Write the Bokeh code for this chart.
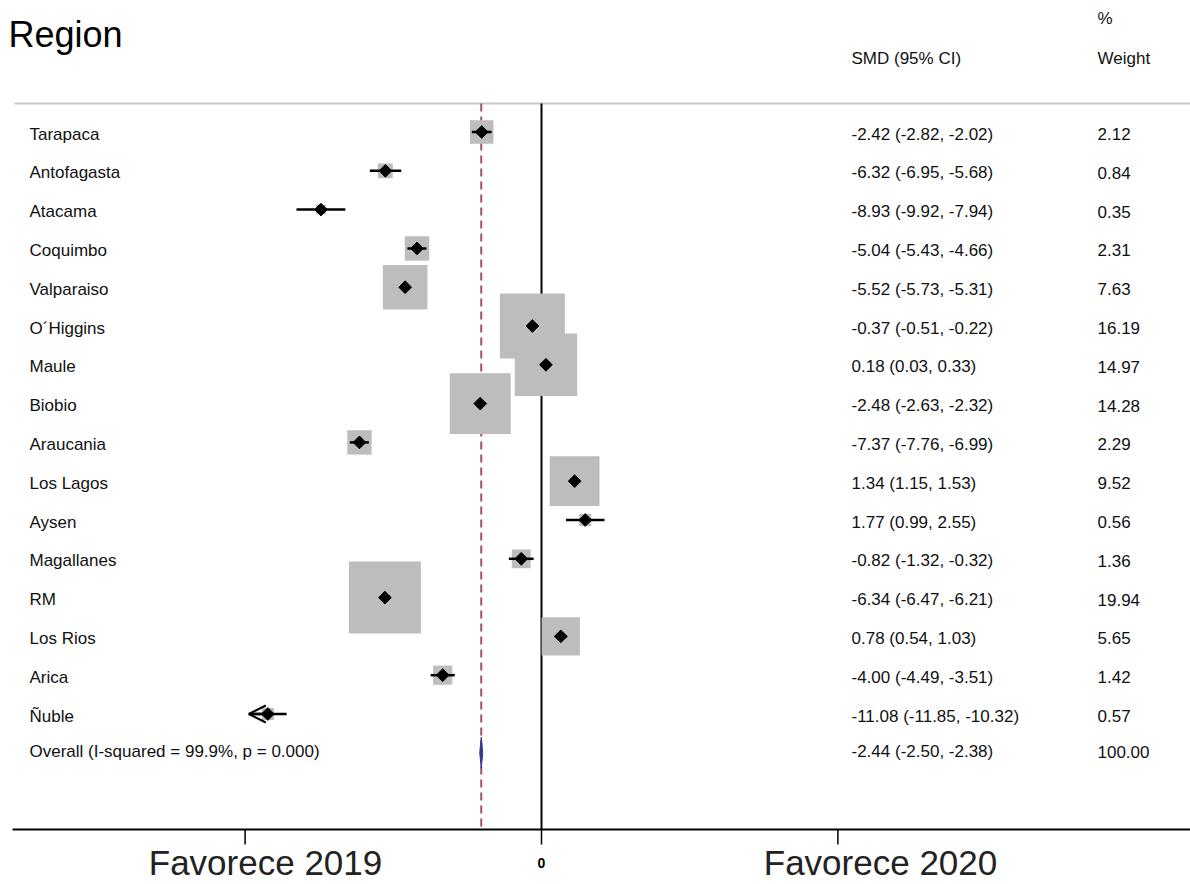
from bokeh.plotting import figure
from bokeh.models import Range1d, Arrow, OpenHead, ColumnDataSource
from bokeh.core.properties import value
from bokeh.embed import file_html
from bokeh.resources import INLINE
import math

# ---------------- data ----------------
regions = ["Tarapaca", "Antofagasta", "Atacama", "Coquimbo", "Valparaiso", "O´Higgins",
           "Maule", "Biobio", "Araucania", "Los Lagos", "Aysen", "Magallanes", "RM",
           "Los Rios", "Arica", "Ñuble"]
smd = [-2.42, -6.32, -8.93, -5.04, -5.52, -0.37, 0.18, -2.48, -7.37, 1.34, 1.77, -0.82,
       -6.34, 0.78, -4.00, -11.08]
ci_low = [-2.82, -6.95, -9.92, -5.43, -5.73, -0.51, 0.03, -2.63, -7.76, 1.15, 0.99, -1.32,
          -6.47, 0.54, -4.49, -11.85]
ci_high = [-2.02, -5.68, -7.94, -4.66, -5.31, -0.22, 0.33, -2.32, -6.99, 1.53, 2.55, -0.32,
           -6.21, 1.03, -3.51, -10.32]
weights = [2.12, 0.84, 0.35, 2.31, 7.63, 16.19, 14.97, 14.28, 2.29, 9.52, 0.56, 1.36,
           19.94, 5.65, 1.42, 0.57]
overall_label = "Overall  (I-squared = 99.9%, p = 0.000)"
overall_smd = -2.44
overall_low = -2.50
overall_high = -2.38
overall_weight = 100.00
x_ticks = [-12, 0, 12]
x_tick_labels = ["", "0", ""]
side_labels = ["Favorece 2019", "Favorece 2020"]

# ---------------- layout helpers (reference pixels -> data) ----------------
W, H = 1190, 884
PX_PER_UNIT = 24.7
ZERO_PX = 541.0          # x pixel of SMD = 0
ROW0_PX = 131.5          # y pixel of first row
ROW_H = 38.8
AXIS_PX = 829            # y pixel of the x axis line
TOP_PX = 103             # y pixel of header rule


def xd(px):
    return (px - ZERO_PX) / PX_PER_UNIT


def yd(py):
    return (py - ROW0_PX) / ROW_H


FONT = "Liberation Sans"
TXT = "#111111"
n = len(regions)
rows = list(range(n))
overall_row = n

p = figure(width=W, height=H, output_backend="svg", toolbar_location=None,
           x_range=Range1d(xd(0), xd(W)), y_range=Range1d(yd(H), yd(0)),
           x_axis_location=None, y_axis_location=None,
           min_border_left=0, min_border_right=0, min_border_top=0, min_border_bottom=0)
p.grid.visible = False
p.outline_line_color = None
p.background_fill_color = "white"
p.border_fill_color = "white"

# header separator line
p.segment(x0=[xd(14)], y0=[yd(TOP_PX)], x1=[xd(W)], y1=[yd(TOP_PX)],
          line_color="#c8c8c8", line_width=2)
# zero line
p.segment(x0=[0], y0=[yd(TOP_PX)], x1=[0], y1=[yd(AXIS_PX)], line_color="black", line_width=2)
# overall dashed line
p.segment(x0=[overall_smd], y0=[yd(TOP_PX)], x1=[overall_smd], y1=[yd(AXIS_PX)],
          line_color="#a3506a", line_width=2, line_dash="8 5")

# x axis: line, ticks and tick labels (through the data scale)
p.segment(x0=[xd(12)], y0=[yd(AXIS_PX)], x1=[xd(W)], y1=[yd(AXIS_PX)],
          line_color="black", line_width=2)
p.segment(x0=x_ticks, y0=[yd(AXIS_PX)] * len(x_ticks), x1=x_ticks,
          y1=[yd(AXIS_PX + 15)] * len(x_ticks), line_color="black", line_width=1.5)
p.text(x=x_ticks, y=[yd(862)] * len(x_ticks), text=x_tick_labels, text_font=value(FONT),
       text_font_size="14px", text_font_style="bold", text_align="center",
       text_baseline="middle", text_color="black")

# weight boxes (area proportional to weight)
box_max = 72.0
sizes = [box_max * math.sqrt(w / max(weights)) for w in weights]
src = ColumnDataSource(dict(row=rows, smd=smd, lo=ci_low, hi=ci_high, w=weights, size=sizes,
                            region=regions,
                            est_txt=[f"{e:.2f} ({l:.2f}, {h:.2f})" for e, l, h in zip(smd, ci_low, ci_high)],
                            w_txt=[f"{w:.2f}" for w in weights]))
p.scatter(x="smd", y="row", size="size", marker="square", source=src,
          fill_color="#bdbdbd", line_color=None)

# CI lines
p.segment(x0="lo", y0="row", x1="hi", y1="row", source=src, line_color="black", line_width=2.5)
# point estimates
p.scatter(x="smd", y="row", size=9, marker="square", angle=math.pi / 4, source=src,
          fill_color="black", line_color="black")

# arrows for CIs reaching the left end of the axis
arrow_idx = [i for i in rows if ci_low[i] < x_ticks[0] + 0.5]
arr_src = ColumnDataSource(dict(x0=[smd[i] for i in arrow_idx], y0=[i for i in arrow_idx],
                                x1=[ci_low[i] for i in arrow_idx], y1=[i for i in arrow_idx]))
p.add_layout(Arrow(end=OpenHead(size=17, line_width=2, line_color="black"),
                   x_start="x0", y_start="y0", x_end="x1", y_end="y1",
                   line_width=2.5, line_color="black", source=arr_src))

# overall diamond
p.patch(x=[overall_low, overall_smd, overall_high, overall_smd],
        y=[overall_row, overall_row - 0.4, overall_row, overall_row + 0.4],
        fill_color="#2f3a8c", line_color="#2f3a8c", line_width=1)

# row texts
for col, xpx in (("region", 29), ("est_txt", 851), ("w_txt", 1097)):
    p.text(x=xd(xpx), y="row", text=col, source=src, text_font=value(FONT),
           text_font_size="17px", text_baseline="middle", text_align="left",
           text_color=TXT, y_offset=2)

# overall row texts
p.text(x=[xd(29), xd(851), xd(1097)], y=[overall_row] * 3,
       text=[overall_label,
             f"{overall_smd:.2f} ({overall_low:.2f}, {overall_high:.2f})",
             f"{overall_weight:.2f}"],
       text_font=value(FONT), text_font_size="17px", text_baseline="middle",
       text_color=TXT, y_offset=-1)

# headers
p.text(x=[xd(8)], y=[yd(34)], text=["Region"], text_font=value(FONT),
       text_font_size="36px", text_baseline="middle", text_color="black")
p.text(x=[xd(851), xd(1097), xd(1097)], y=[yd(58), yd(18), yd(58)],
       text=["SMD (95% CI)", "%", "Weight"], text_font=value(FONT),
       text_font_size="17px", text_baseline="middle", text_color=TXT)

# side labels under the axis
p.text(x=[xd(265), xd(880)], y=[yd(862)] * 2, text=side_labels, text_font=value(FONT),
       text_font_size="35px", text_align="center", text_baseline="middle",
       text_color="#222222")

open("out.html", "w").write(file_html(p, INLINE))
